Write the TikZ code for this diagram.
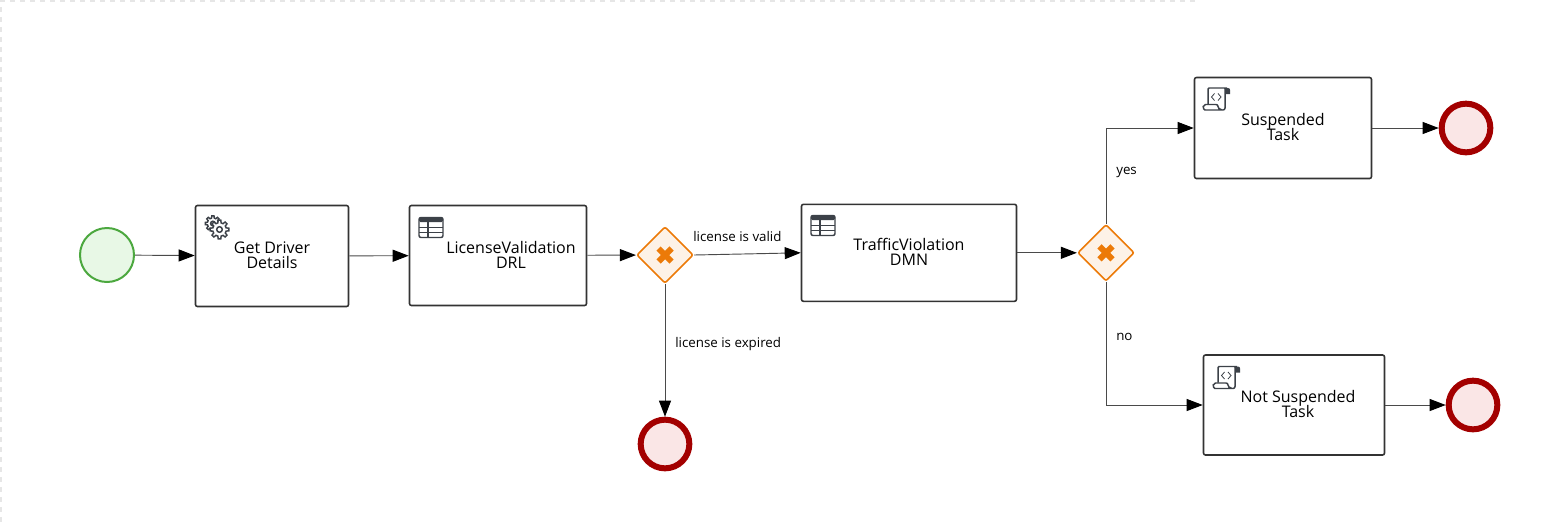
\documentclass[tikz,border=0pt]{standalone}
\usepackage{fontspec}
\setmainfont{Open Sans}
\usetikzlibrary{arrows.meta,shapes.geometric}

\definecolor{taskline}{HTML}{333333}
\definecolor{iconline}{HTML}{3C4148}
\definecolor{flowline}{HTML}{4A4A4A}
\definecolor{startline}{HTML}{4CA83F}
\definecolor{startfill}{HTML}{E8F8E6}
\definecolor{endline}{HTML}{A30000}
\definecolor{endfill}{HTML}{FAE6E6}
\definecolor{gateline}{HTML}{EC7A08}
\definecolor{gatefill}{HTML}{FDF2E7}
\definecolor{canvasline}{HTML}{E6E6E6}

\setlength{\lineskiplimit}{-6pt}

\tikzset{
  task/.style 2 args={draw=taskline,line width=1.2pt,rounded corners=1.5pt,fill=white,
    minimum width=#1*0.75pt,minimum height=#2*0.75pt,inner sep=0pt},
  tasktext/.style={inner sep=0pt,align=center,text=black,font=\fontsize{12}{11.25}\selectfont},
  startevent/.style={circle,draw=startline,fill=startfill,line width=1.5pt,minimum size=40.5pt,inner sep=0pt},
  endevent/.style={circle,draw=endline,fill=endfill,line width=4.5pt,minimum size=36.5pt,inner sep=0pt},
  gateway/.style={diamond,aspect=1,draw=gateline,fill=gatefill,line width=1.2pt,rounded corners=1.5pt,
    minimum size=42.5pt,inner sep=0pt},
  gatecross/.style={draw=gateline,line width=4.5pt},
  flow/.style={draw=flowline,line width=0.7pt,-{Triangle[length=12pt,width=9pt,color=black]}},
  flowlabel/.style={inner sep=0pt,anchor=west,text=black,font=\fontsize{10}{11}\selectfont},
  iconstroke/.style={draw=iconline,line width=1.1pt},
  pics/geargroup/.style={code={
    \foreach \cx/\cy/\r in {-6.6/-6/0.82,0/0/1} {
      \draw [iconstroke,fill=white,shift={(\cx,\cy)},scale=\r]
        (-14:6.8) \foreach \a in {0,45,...,315} {
          -- (\a-14:6.8) -- (\a-8:9.4) -- (\a+8:9.4) -- (\a+14:6.8) } -- cycle;
      \draw [iconstroke,shift={(\cx,\cy)},scale=\r] (0,0) circle [radius=2.8];
    }
  }},
  pics/tableicon/.style={code={
    \draw [iconstroke,rounded corners=1.5pt] (0,0) rectangle (24,20);
    \fill [iconline,rounded corners=1pt] (0,0) rectangle (24,4.5);
    \draw [iconstroke] (0,10) -- (24,10) (0,15) -- (24,15) (9,4) -- (9,20);
  }},
  pics/scripticon/.style={code={
    \draw [iconstroke,rounded corners=1.5pt] (5,16) -- (5,3) .. controls (5,1) and (6.5,0) .. (8,0) -- (24,0);
    \draw [iconstroke,rounded corners=1.5pt] (22,0) -- (22,22) -- (4,22)
      .. controls (1,22) and (0,20) .. (0.5,16.5) -- (15,16.5) .. controls (15,19) and (16,22) .. (19,22);
    \fill [iconline] (21,0) -- (25,0) .. controls (26.5,0) and (27,1) .. (27,2) -- (27,6) -- (22,6) -- (22,1.5) -- cycle;
    \draw [iconline,line width=0.6pt] (11.5,5.5) -- (8.5,9) -- (11.5,12.5) (15,5.5) -- (18,9) -- (15,12.5);
  }},
}

\begin{document}
\begin{tikzpicture}[x=0.75pt,y=-0.75pt]
\useasboundingbox (0,0) rectangle (1551,522);
% canvas edge
\coordinate (cornerbl) at (1,522);
\coordinate (cornertl) at (1,1);
\coordinate (cornertr) at (1196,1);
\draw [canvasline,line width=1.1pt,dash pattern=on 3.75pt off 3.75pt] (cornerbl) -- (cornertl) -- (cornertr);
% events
\node [startevent] (start) at (107,255) {};
\node [endevent] (endexpired) at (665,444) {};
\node [endevent] (endsuspended) at (1466,128) {};
\node [endevent] (endnotsuspended) at (1473,405) {};
% tasks
\node [task={153}{101}] (driver) at (272,256) {};
\node [task={177}{100}] (drl) at (498,255.5) {};
\node [task={215}{97}] (dmn) at (909,252.8) {};
\node [task={177}{101}] (suspended) at (1283,128) {};
\node [task={181}{100}] (notsuspended) at (1294,405) {};
\node [tasktext] (drivertext) at (272,255.5) {Get Driver\\Details};
\node [tasktext] (drltext) at (511,254.5) {LicenseValidation\\DRL};
\node [tasktext] (dmntext) at (909,251.5) {TrafficViolation\\DMN};
\node [tasktext] (suspendedtext) at (1283,126.5) {Suspended\\Task};
\node [tasktext] (notsuspendedtext) at (1298,403.5) {Not Suspended\\Task};
% gateways
\node [gateway] (gatelicense) at (665,255) {};
\node [gateway] (gateviolation) at (1106,252.8) {};
\foreach \gate in {gatelicense,gateviolation}
  \draw [gatecross,shift={(\gate)}] (-6.5,-6.5) -- (6.5,6.5) (-6.5,6.5) -- (6.5,-6.5);
% icons
\pic at (219.5,229.5) {geargroup};
\pic at (419,217.5) {tableicon};
\pic at (811,215.5) {tableicon};
\pic at (1203,88) {scripticon};
\pic at (1213,366.5) {scripticon};
% flows
\draw [flow] (start) -- (driver);
\draw [flow] (driver) -- (drl);
\draw [flow] (drl) -- (gatelicense);
\draw [flow] (gatelicense.east) -- (dmn.west);
\draw [flow] (gatelicense) -- (endexpired);
\draw [flow] (dmn) -- (gateviolation);
\draw [flow] (gateviolation.north) |- (suspended.west);
\draw [flow] (gateviolation.south) |- (notsuspended.west);
\draw [flow] (suspended) -- (endsuspended);
\draw [flow] (notsuspended) -- (endnotsuspended);
% flow labels
\node [flowlabel] (validlabel) at (693,236.5) {license is valid};
\node [flowlabel] (expiredlabel) at (675,344) {license is expired};
\node [flowlabel] (yeslabel) at (1116,172) {yes};
\node [flowlabel] (nolabel) at (1116,337) {no};
\end{tikzpicture}
\end{document}
